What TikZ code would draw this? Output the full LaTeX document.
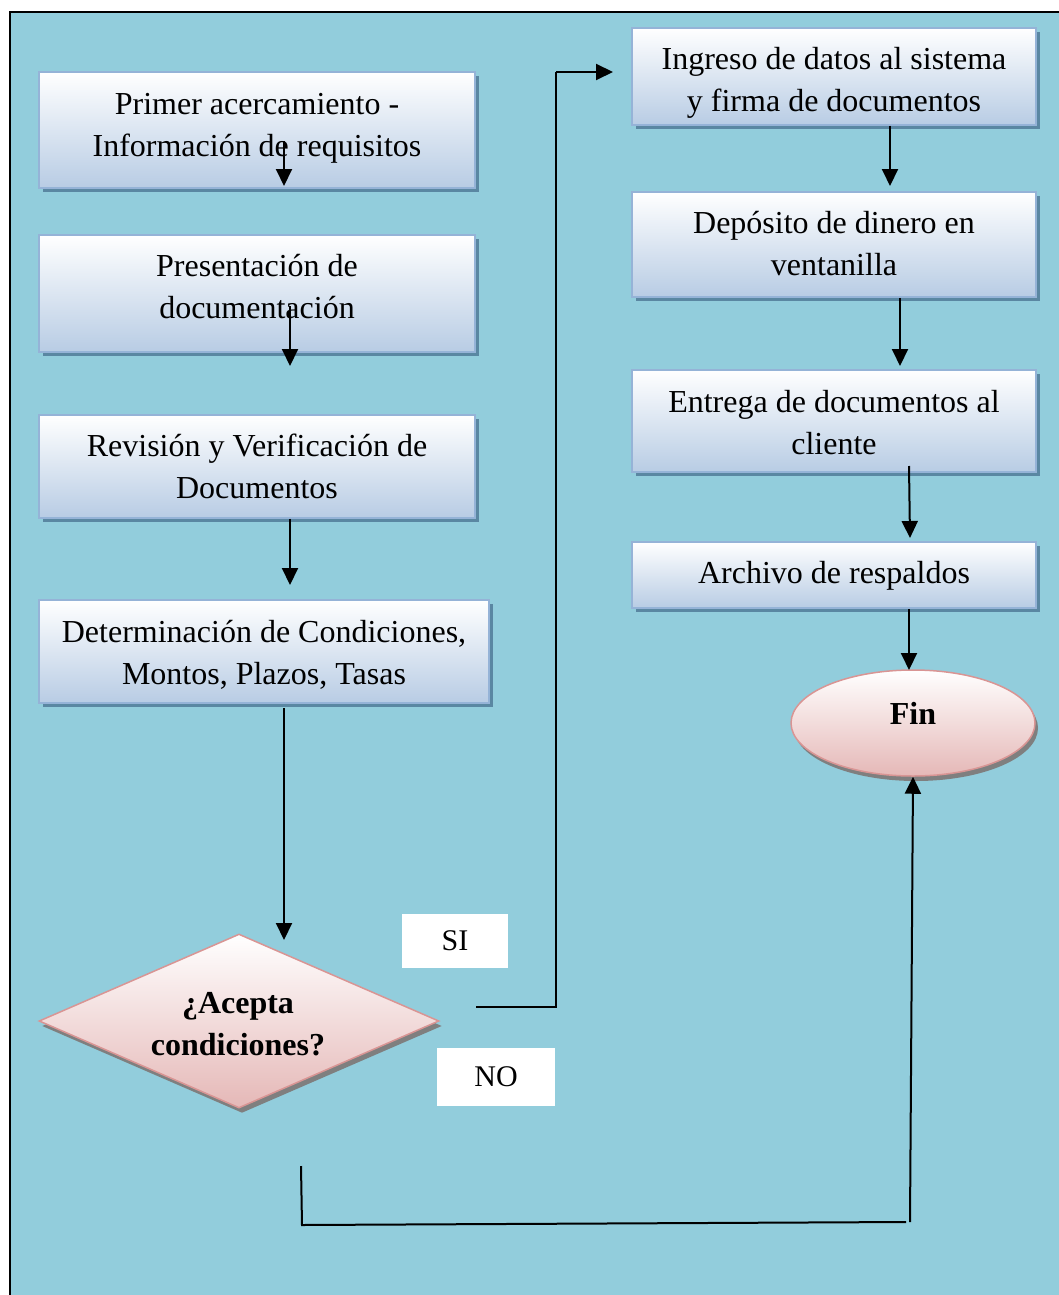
\documentclass[tikz,border=0pt]{standalone}
\usepackage{fontspec}
\setmainfont{Liberation Serif}
\usetikzlibrary{shapes.geometric,shadows,arrows.meta}
\definecolor{bgblue}{HTML}{92CDDC}
\definecolor{boxline}{HTML}{95B3D7}
\definecolor{boxbot}{HTML}{B8CCE4}
\definecolor{boxshadow}{HTML}{5A87A2}
\definecolor{pinkline}{HTML}{D99594}
\definecolor{pinkbot}{HTML}{E5B8B7}
\definecolor{grayshadow}{HTML}{7F7F7F}
\tikzset{
  stepbox/.style={draw=boxline, line width=1.5pt, top color=white, bottom color=boxbot,
    inner sep=0pt,
    drop shadow={shadow xshift=4pt, shadow yshift=-4pt, fill=boxshadow, opacity=1}},
  boxtext/.style={align=center, inner sep=0pt, font=\fontsize{32}{42}\selectfont},
  decision/.style={diamond, shape aspect=2.3, draw=pinkline, line width=1.5pt, top color=white, bottom color=pinkbot,
    inner sep=0pt,
    drop shadow={shadow xshift=3pt, shadow yshift=-5pt, fill=grayshadow, opacity=1}},
  endnode/.style={ellipse, draw=pinkline, line width=1.5pt, top color=white, bottom color=pinkbot,
    inner sep=0pt,
    drop shadow={shadow xshift=3pt, shadow yshift=-5pt, fill=grayshadow, opacity=1}},
  boldtext/.style={align=center, inner sep=0pt, font=\fontsize{32}{42}\selectfont\bfseries},
  tag/.style={fill=white, inner sep=0pt, font=\fontsize{30}{36}\selectfont},
  arr/.style={line width=2pt, -{Triangle[length=17pt,width=16pt]}},
  conn/.style={line width=2pt}
}
\begin{document}
\begin{tikzpicture}[x=1pt,y=-1pt]
\useasboundingbox (0,0) rectangle (1059,1295);
\fill[white] (0,0) rectangle (1059,1295);
\fill[bgblue] (10,12) rectangle (1059,1295);
\draw[line width=2pt] (10,1295) -- (10,12) -- (1059,12);

% left column
\node[stepbox, minimum width=436pt, minimum height=116pt] (b1) at (257,130) {};
\node[boxtext] (t1) at (257,128) {Primer acercamiento -\\Información de requisitos};
\node[stepbox, minimum width=436pt, minimum height=117pt] (b2) at (257,293.5) {};
\node[boxtext] (t2) at (257,286.5) {Presentación de\\documentación};
\node[stepbox, minimum width=436pt, minimum height=103pt] (b3) at (257,466.5) {};
\node[boxtext] (t3) at (257,466.5) {Revisión y Verificación de\\Documentos};
\node[stepbox, minimum width=450pt, minimum height=103pt] (b4) at (264,651.5) {};
\node[boxtext] (t4) at (264,654.5) {Determinación de Condiciones,\\Montos, Plazos, Tasas};

% right column
\node[stepbox, minimum width=404pt, minimum height=97pt] (b5) at (834,76.5) {};
\node[boxtext] (t5) at (834,82.5) {Ingreso de datos al sistema\\y firma de documentos};
\node[stepbox, minimum width=404pt, minimum height=105pt] (b6) at (834,244.5) {};
\node[boxtext] (t6) at (834,243.5) {Depósito de dinero en\\ventanilla};
\node[stepbox, minimum width=404pt, minimum height=102pt] (b7) at (834,421) {};
\node[boxtext] (t7) at (834,423) {Entrega de documentos al\\cliente};
\node[stepbox, minimum width=404pt, minimum height=66pt] (b8) at (834,575) {};
\node[boxtext] (t8) at (834,576) {Archivo de respaldos};
\node[endnode, minimum width=244pt, minimum height=106pt] (fin) at (913,723) {};
\node[boldtext] (tfin) at (913,713) {Fin};

% decision
\node[decision, minimum width=400pt, minimum height=174pt] (dec) at (239,1021) {};
\node[boldtext] (tdec) at (238,1024) {¿Acepta\\condiciones?};

% labels
\node[tag, minimum width=106pt, minimum height=54pt] (si) at (455,941) {SI};
\node[tag, minimum width=118pt, minimum height=58pt] (no) at (496,1077) {NO};

% connector points
\coordinate (a1s) at (284,141);
\coordinate (a1e) at (284,186);
\coordinate (a2s) at (290,306);
\coordinate (a2e) at (290,366);
\coordinate (a3e) at (290,585);
\coordinate (a4s) at (284,708);
\coordinate (a4e) at (284,940);
\coordinate (sis) at (476,1007);
\coordinate (sia) at (556,1007);
\coordinate (sib) at (556,72);
\coordinate (sie) at (613,72);
\coordinate (a5e) at (890,186);
\coordinate (a6e) at (900,366);
\coordinate (a7s) at (909,466);
\coordinate (a7e) at (910,538);
\coordinate (a8e) at (909,670);
\coordinate (nos) at (301,1166);
\coordinate (noa) at (302,1225);
\coordinate (nob) at (906,1222);
\coordinate (noc) at (910,1222);

% connectors
\draw[arr] (a1s) -- (a1e);
\draw[arr] (a2s) -- (a2e);
\draw[arr] (b3.south -| a2s) -- (a3e);
\draw[arr] (a4s) -- (a4e);
\draw[conn] (sis) -- (sia) -- (sib);
\draw[arr] (sib) -- (sie);
\draw[arr] (b5.south -| a5e) -- (a5e);
\draw[arr] (b6.south -| a6e) -- (a6e);
\draw[arr] (a7s) -- (a7e);
\draw[arr] (b8.south -| a8e) -- (a8e);
\draw[conn] (nos) -- (noa) -- (nob);
\draw[arr] (noc) -- (fin.south);
\end{tikzpicture}
\end{document}
